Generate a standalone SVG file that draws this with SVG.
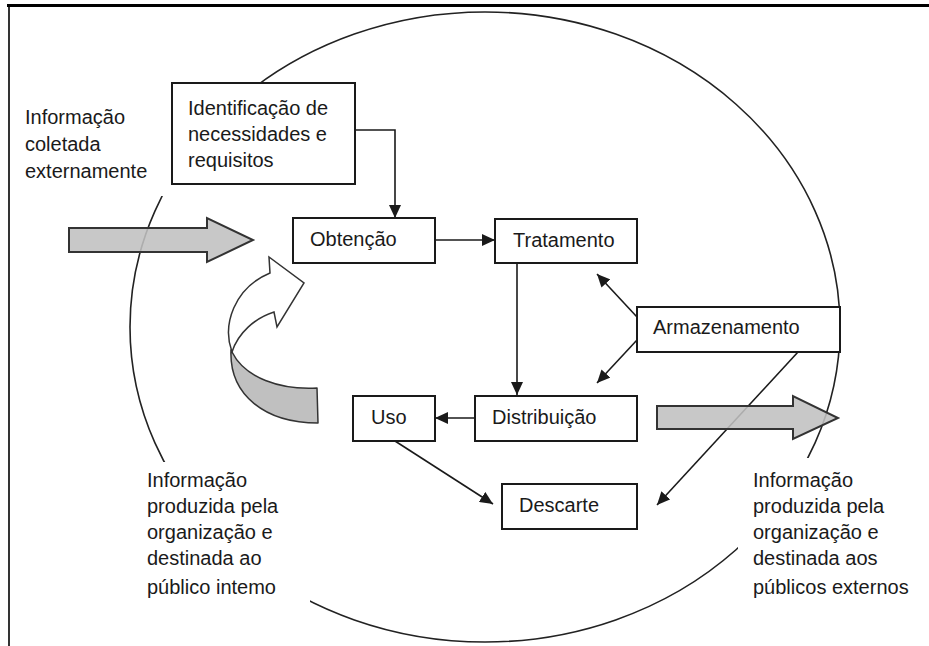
<svg xmlns="http://www.w3.org/2000/svg" width="929" height="646" viewBox="0 0 929 646">
<defs>
<style>
text{font-family:"Liberation Sans",Arial,sans-serif;font-size:20px;fill:#1a1a1a}
.box{fill:#fff;stroke:#1a1a1a;stroke-width:2}
.bg{fill:#fff;stroke:none}
.conn{fill:none;stroke:#1a1a1a;stroke-width:1.6;marker-end:url(#ah)}
.block{fill:#c0c0c0;fill-opacity:0.88;stroke:#333;stroke-width:2;stroke-linejoin:miter}
</style>
<marker id="ah" markerUnits="userSpaceOnUse" markerWidth="14" markerHeight="12" refX="13" refY="6" orient="auto">
<path d="M0,0 L13,6 L0,12 z" fill="#1a1a1a"/>
</marker>
</defs>
<rect width="929" height="646" fill="#fff"/>
<g id="frame">
<line x1="7" y1="5.5" x2="929" y2="5.5" stroke="#000" stroke-width="3"/>
<line x1="9" y1="5" x2="9" y2="646" stroke="#000" stroke-width="1.6"/>
</g>
<g id="cycle">
<ellipse cx="485" cy="327" rx="355" ry="315" fill="none" stroke="#222" stroke-width="1.6"/>
</g>
<g id="label-externa">
<rect class="bg" x="18" y="100" width="156" height="96"/>
<text x="25" y="124">Informação</text>
<text x="25" y="151">coletada</text>
<text x="25" y="178">externamente</text>
</g>
<g id="label-interno">
<rect class="bg" x="140" y="462" width="170" height="150"/>
<text x="147" y="487">Informação</text>
<text x="147" y="513">produzida pela</text>
<text x="147" y="539">organização e</text>
<text x="147" y="565">destinada ao</text>
<text x="147" y="594">público intemo</text>
</g>
<g id="label-externos">
<rect class="bg" x="738" y="458" width="180" height="154"/>
<text x="753" y="487">Informação</text>
<text x="753" y="513">produzida pela</text>
<text x="753" y="539">organização e</text>
<text x="753" y="565">destinada aos</text>
<text x="753" y="594">públicos externos</text>
</g>
<g id="connectors">
<path class="conn" d="M355,130 H395 V218"/>
<path class="conn" d="M435,240 H495"/>
<path class="conn" d="M517,263 V395"/>
<path class="conn" d="M475,418 H435"/>
<path class="conn" d="M395,441 L493,504"/>
<path class="conn" d="M637,317 L597,274"/>
<path class="conn" d="M637,340 L597,383"/>
<path class="conn" d="M798,352 L657,505"/>
</g>
<g id="identificacao">
<rect class="box" x="172" y="83" width="183" height="101"/>
<text x="188" y="115">Identificação de</text>
<text x="188" y="141">necessidades e</text>
<text x="188" y="167">requisitos</text>
</g>
<g id="obtencao">
<rect class="box" x="293" y="218" width="142" height="45"/>
<text x="310" y="246">Obtenção</text>
</g>
<g id="tratamento">
<rect class="box" x="495" y="219" width="142" height="44"/>
<text x="513" y="247">Tratamento</text>
</g>
<g id="armazenamento">
<rect class="box" x="637" y="307" width="203" height="45"/>
<text x="653" y="334">Armazenamento</text>
</g>
<g id="distribuicao">
<rect class="box" x="475" y="396" width="162" height="45"/>
<text x="492" y="424">Distribuição</text>
</g>
<g id="uso">
<rect class="box" x="353" y="396" width="82" height="45"/>
<text x="371" y="424">Uso</text>
</g>
<g id="descarte">
<rect class="box" x="502" y="484" width="135" height="45"/>
<text x="519" y="512">Descarte</text>
</g>
<g id="arrow-externa">
<path class="block" d="M69,228 H207 V218 L253,240 L207,262 V252 H69 Z"/>
</g>
<g id="arrow-externos">
<path class="block" d="M657,406 H793 V396 L838,418 L793,439 V429 H657 Z"/>
</g>
<g id="arrow-interno">
<path d="M231,350 C229,395 265,423 318,423 L317,388 C280,390 245,378 232,352 Z" fill="#c0c0c0" stroke="#333" stroke-width="1.5" stroke-linejoin="round"/>
<path d="M232,352 C222,325 234,288 270,273 L269,257 L304,283 L277,327 L274,312 C255,318 238,333 232,352 Z" fill="#fff" stroke="#333" stroke-width="1.5" stroke-linejoin="miter"/>
</g>
</svg>
